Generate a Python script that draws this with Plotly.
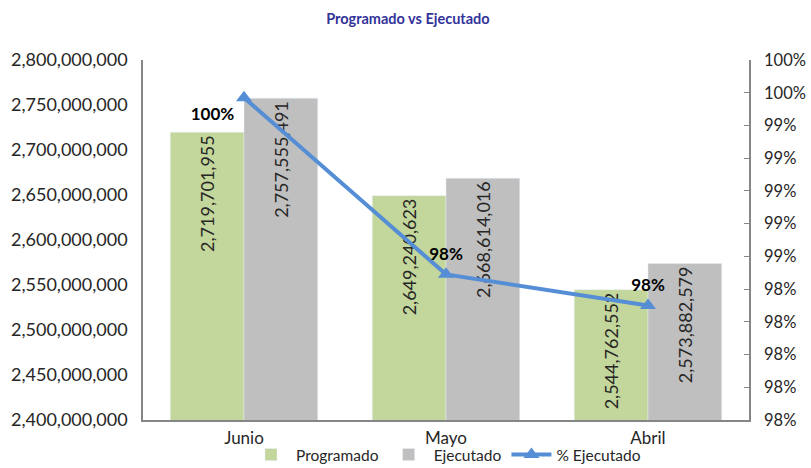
import plotly.graph_objects as go

categories = ["Junio", "Mayo", "Abril"]
programado = [2719701955, 2649240623, 2544762552]
ejecutado = [2757555491, 2668614016, 2573882579]
pct_ejecutado = [0.9957, 0.9849, 0.9830]
pct_labels = ["100%", "98%", "98%"]

left_ticks = [2400000000 + 50000000 * i for i in range(9)]
right_tickvals = [0.976, 0.978, 0.980, 0.982, 0.984, 0.986, 0.988, 0.990, 0.992, 0.994, 0.996, 0.998]
right_ticktext = ["98%", "98%", "98%", "98%", "98%", "99%", "99%", "99%", "99%", "99%", "100%", "100%"]

FONT = "Lato, Calibri, sans-serif"
TXT = "#262626"

fig = go.Figure()
fig.add_trace(go.Bar(
    name="Programado", x=categories, y=programado, marker_color="#C3D69B",
    texttemplate="%{y:,.0f}", textposition="inside", insidetextanchor="end",
    textangle=-90, textfont=dict(family=FONT, size=18, color=TXT),
    constraintext="none", cliponaxis=False,
))
fig.add_trace(go.Bar(
    name="Ejecutado", x=categories, y=ejecutado, marker_color="#BFBFBF",
    texttemplate="%{y:,.0f}", textposition="inside", insidetextanchor="end",
    textangle=-90, textfont=dict(family=FONT, size=18, color=TXT),
    constraintext="none", cliponaxis=False,
))
fig.add_trace(go.Scatter(
    name="% Ejecutado", x=categories, y=pct_ejecutado, yaxis="y2",
    mode="lines+markers+text", text=pct_labels,
    textposition=["bottom left", "top center", "top center"],
    textfont=dict(family=FONT, size=17, color="#000000", weight="bold"),
    line=dict(color="#558ED5", width=4),
    marker=dict(symbol="triangle-up", size=14, color="#558ED5"),
    cliponaxis=False,
))

fig.update_layout(
    width=811, height=468,
    margin=dict(l=143, r=62, t=60, b=48, autoexpand=False),
    paper_bgcolor="white", plot_bgcolor="white",
    barmode="group", bargap=0.27, bargroupgap=0,
    font=dict(family=FONT, size=18, color=TXT),
    title=dict(text="<b>Programado vs Ejecutado</b>", x=0.503, xanchor="center",
               y=0.96, yanchor="middle",
               font=dict(family=FONT, size=14.5, color="#333399")),
    xaxis=dict(showline=True, linecolor="#868686", linewidth=1.5,
               ticks="", ticklabelstandoff=2, tickfont=dict(size=17, color=TXT)),
    yaxis=dict(range=[2400000000, 2800000000], tickvals=left_ticks,
               tickformat=",.0f", showgrid=False, zeroline=False,
               showline=True, linecolor="#868686", linewidth=1.5,
               ticks="", ticklabelstandoff=10, tickfont=dict(size=18, color=TXT)),
    yaxis2=dict(overlaying="y", side="right", range=[0.976, 0.998],
                tickvals=right_tickvals, ticktext=right_ticktext,
                showgrid=False, zeroline=False, showline=True,
                linecolor="#868686", linewidth=1.5, ticks="inside",
                ticklen=5, tickcolor="#868686", ticklabelstandoff=10,
                tickfont=dict(size=16.5, color=TXT)),
    legend=dict(orientation="h", x=0.5, xanchor="center", y=-0.05,
                yanchor="top", font=dict(size=15.5, color=TXT),
                traceorder="normal", bgcolor="rgba(0,0,0,0)",
                itemwidth=40, tracegroupgap=0),
    showlegend=True,
)

fig.write_html("out.html", config={"displayModeBar": False},
               post_script="document.body.style.margin='0';")
